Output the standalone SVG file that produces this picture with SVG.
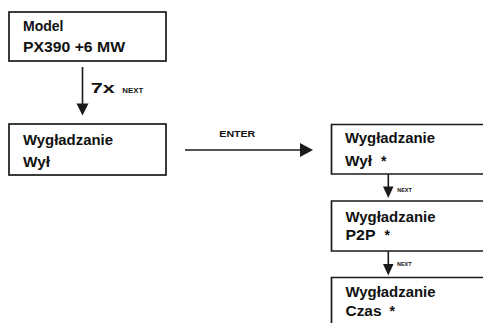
<svg xmlns="http://www.w3.org/2000/svg" width="483" height="323" viewBox="0 0 483 323">
<style>
.box{fill:#fff;stroke:#1a1a1a;stroke-width:1.7}
.t{font-family:"Liberation Sans",Arial,sans-serif;font-weight:bold;font-size:14px;fill:#111}
.s{font-family:"Liberation Sans",Arial,sans-serif;font-weight:bold;fill:#111}
.ln{stroke:#1a1a1a;stroke-width:1.6;fill:none}
.hd{fill:#1a1a1a}
</style>
<rect width="483" height="323" fill="#fff"/>
<g id="n1">
<rect class="box" x="9" y="12" width="157" height="49"/>
<text class="t" x="23" y="30.7" textLength="40.5" lengthAdjust="spacingAndGlyphs">Model</text>
<text class="t" x="23" y="52.3" textLength="102" lengthAdjust="spacingAndGlyphs">PX390 +6 MW</text>
</g>
<g id="n2">
<rect class="box" x="9" y="124" width="157" height="51"/>
<text class="t" x="23" y="144.7" textLength="90" lengthAdjust="spacingAndGlyphs">Wygładzanie</text>
<text class="t" x="23" y="166.7" textLength="27" lengthAdjust="spacingAndGlyphs">Wył</text>
</g>
<g id="n3">
<path class="box" d="M484,124.5 H331.5 V174 H484"/>
<text class="t" x="345" y="143.3" textLength="90" lengthAdjust="spacingAndGlyphs">Wygładzanie</text>
<text class="t" x="345" y="165.7" textLength="27" lengthAdjust="spacingAndGlyphs">Wył</text>
<text class="t" x="381" y="165.7">*</text>
</g>
<g id="n4">
<path class="box" d="M484,201 H331.5 V251 H484"/>
<text class="t" x="345.5" y="222" textLength="90" lengthAdjust="spacingAndGlyphs">Wygładzanie</text>
<text class="t" x="345.5" y="239.5" textLength="30" lengthAdjust="spacingAndGlyphs">P2P</text>
<text class="t" x="384.5" y="239.5">*</text>
</g>
<g id="n5">
<path class="box" d="M484,277.5 H331.5 V324"/>
<text class="t" x="345.5" y="297" textLength="90" lengthAdjust="spacingAndGlyphs">Wygładzanie</text>
<text class="t" x="345.5" y="316" textLength="36" lengthAdjust="spacingAndGlyphs">Czas</text>
<text class="t" x="389.5" y="316">*</text>
</g>
<g id="connectors">
<line class="ln" x1="82.5" y1="67" x2="82.5" y2="105"/>
<polygon class="hd" points="76.5,103.5 88.5,103.5 82.5,115.5"/>
<text class="s" x="90.7" y="92.7" font-size="14" textLength="24" lengthAdjust="spacingAndGlyphs">7x</text>
<text class="s" x="122.3" y="92.7" font-size="6.8" textLength="21" lengthAdjust="spacingAndGlyphs">NEXT</text>
<line class="ln" x1="185" y1="150" x2="301" y2="150"/>
<polygon class="hd" points="300,143 300,157 313,150"/>
<text class="s" x="219.3" y="137.3" font-size="8.5" textLength="36" lengthAdjust="spacingAndGlyphs">ENTER</text>
<line class="ln" x1="388.3" y1="174" x2="388.3" y2="188"/>
<polygon class="hd" points="383,186.5 393.5,186.5 388.3,198"/>
<text class="s" x="397.3" y="191.7" font-size="6" textLength="14.5" lengthAdjust="spacingAndGlyphs">NEXT</text>
<line class="ln" x1="388.3" y1="251" x2="388.3" y2="265"/>
<polygon class="hd" points="383,264 393.5,264 388.3,275.5"/>
<text class="s" x="397" y="265.5" font-size="6" textLength="14.5" lengthAdjust="spacingAndGlyphs">NEXT</text>
</g>
</svg>
